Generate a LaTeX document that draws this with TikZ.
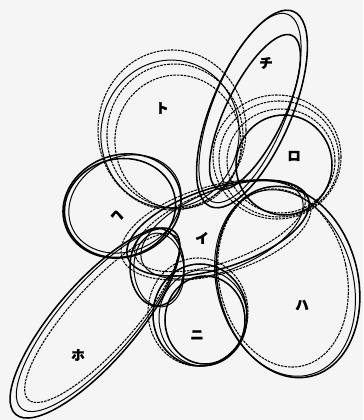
\documentclass[tikz,border=0pt]{standalone}
\usepackage{fontspec}
\newfontfamily\jpfont[FakeBold=1.5]{Noto Sans CJK JP}

\tikzset{
  pen/.style={line width=1.1pt},
  thinpen/.style={line width=0.7pt},
  dashpen/.style={line width=0.75pt, dash pattern=on 1.8pt off 0.7pt},
  setlabel/.style={font=\jpfont\fontsize{9.5}{9.5}\selectfont\bfseries, inner sep=0pt}
}
% one outline of a set: centre x, centre y, x radius, y radius, angle
\newcommand{\setrim}[6][pen]{\draw[#1, rotate around={#6:(#2,#3)}] (#2,#3) ellipse (#4 and #5);}

\begin{document}
\begin{tikzpicture}[x=0.025cm,y=0.025cm]
\fill[black!4] (0,0) rectangle (363,420);
\useasboundingbox (0,0) rectangle (363,420);

% chi
\setrim{252}{311}{106}{40}{67}
\setrim[thinpen]{250}{312}{101}{37}{68}
\setrim{255}{308}{85}{29}{64}

% to
\setrim[dashpen]{172}{290}{74}{80}{0}
\setrim[dashpen]{175}{284}{68}{72}{5}
\setrim[dashpen]{178}{278}{63}{67}{8}
\setrim[thinpen]{170}{286}{69}{74}{-8}

% ro
\setrim[dashpen]{277}{263}{64}{62}{0}
\setrim[dashpen]{279}{261}{60}{58}{0}
\setrim[dashpen]{281}{259}{54}{52}{0}
\setrim{284}{255}{48}{50}{0}

% he
\setrim{122}{214}{60}{51}{20}
\setrim{120}{212}{56}{49}{15}
\setrim[thinpen]{125}{216}{58}{47}{25}

% i
\setrim{218}{192}{95}{40}{18}
\setrim[dashpen]{220}{194}{90}{36}{20}
\setrim[dashpen]{216}{190}{98}{44}{16}
\setrim[thinpen]{222}{190}{86}{40}{22}

% small ring
\setrim{157}{153}{27}{39}{0}
\setrim[thinpen]{159}{150}{25}{37}{5}

% ha
\setrim{288}{138}{70}{97}{14}
\setrim[thinpen]{285}{137}{68}{95}{16}
\setrim[dashpen]{283}{142}{64}{90}{12}

% ni
\setrim{200}{105}{47}{51}{0}
\setrim[thinpen]{203}{102}{44}{48}{0}
\setrim[dashpen]{198}{108}{50}{54}{0}
\setrim{205}{100}{40}{44}{0}

% ho
\setrim{95}{97}{121}{40}{49}
\setrim[thinpen]{98}{100}{117}{37}{49}
\setrim[dashpen]{102}{102}{110}{32}{48}

\node[setlabel] (chi) at (266,357) {チ};
\node[setlabel] (to) at (162,312) {ト};
\node[setlabel] (ro) at (294,264) {ロ};
\node[setlabel] (he) at (117,205) {ヘ};
\node[setlabel] (i) at (202,182) {イ};
\node[setlabel] (ha) at (302,115) {ハ};
\node[setlabel] (ni) at (197,85) {ニ};
\node[setlabel] (ho) at (78,65) {ホ};
\end{tikzpicture}
\end{document}
